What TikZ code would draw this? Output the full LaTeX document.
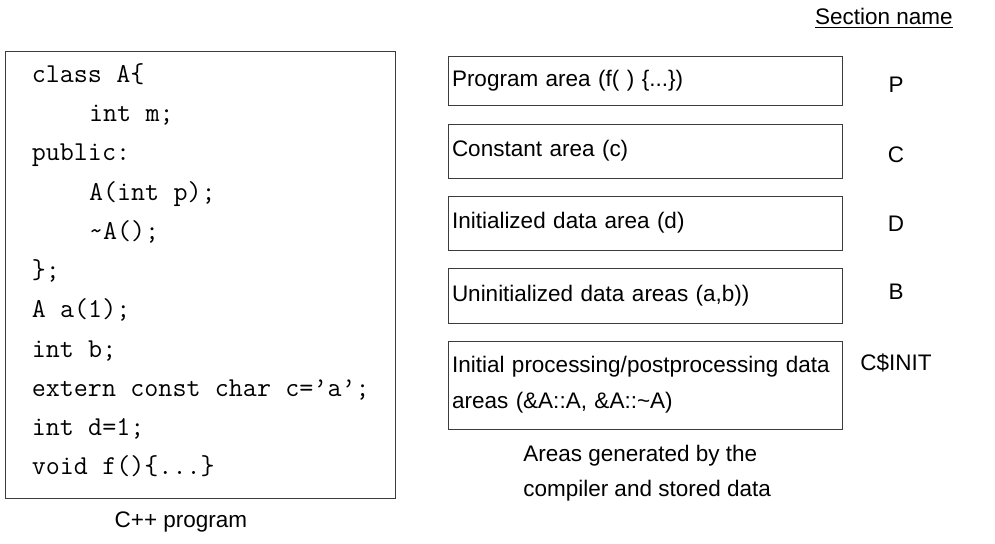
\documentclass[tikz,border=0pt]{standalone}
\usepackage{fontspec}
\setmainfont{Liberation Sans}
\usepackage{tikz}
\usetikzlibrary{positioning}
\definecolor{boxline}{RGB}{60, 60, 60}
\newcommand{\tsp}{\hspace*{0.525em}}

\tikzset{
  areabox/.style={rectangle, draw=boxline, line width=0.7pt, minimum width=9.85cm, text width=9.65cm, inner xsep=0.1cm, align=left, font=\fontsize{16}{25.6}\selectfont},
  seclabel/.style={font=\fontsize{16}{19}\selectfont, inner sep=0pt},
  caption/.style={font=\fontsize{16}{24.9}\selectfont, align=left, inner sep=0pt}
}

\begin{document}
\begin{tikzpicture}
\useasboundingbox (0,0) rectangle (24.875,-13.6);
\node[rectangle, draw=boxline, line width=0.7pt, minimum width=9.75cm, minimum height=11.175cm] (code) at (5.0,-6.8625) {};
\node[anchor=north west, inner sep=0pt, align=left, font=\ttfamily\fontsize{19.4}{27.9}\selectfont] (codetext) at ([xshift=0.675cm, yshift=-0.32cm]code.north west) {class\tsp A\{\\ \tsp\tsp\tsp\tsp int\tsp m;\\ public:\\ \tsp\tsp\tsp\tsp A(int\tsp p);\\ \tsp\tsp\tsp\tsp\textasciitilde A();\\ \};\\ A\tsp a(1);\\ int\tsp b;\\ extern\tsp const\tsp char\tsp c=’a’;\\ int\tsp d=1;\\ void\tsp f()\{...\}};
\node[caption] (codecap) at (4.525,-13.05) {C++ program};

\node[seclabel, anchor=east] (secname) at (23.825,-0.45) {\underline{Section name}};

\node[areabox, minimum height=1.225cm] (prog) at (16.125,-2.0125) {Program area (f( ) \{...\})};
\node[areabox, minimum height=1.35cm] (const) at (16.125,-3.775) {Constant area (c)};
\node[areabox, minimum height=1.35cm] (init) at (16.125,-5.575) {Initialized data area (d)};
\node[areabox, minimum height=1.375cm] (uninit) at (16.125,-7.3875) {Uninitialized data areas (a,b))};
\node[areabox, minimum height=2.2cm] (cinit) at (16.125,-9.625) {Initial processing/postprocessing data areas (\&A::A, \&A::\textasciitilde A)};

\node[seclabel] (secP) at (22.4,-2.125) {P};
\node[seclabel] (secC) at (22.4,-3.875) {C};
\node[seclabel] (secD) at (22.4,-5.6) {D};
\node[seclabel] (secB) at (22.4,-7.3) {B};
\node[seclabel] (secI) at (22.4,-9.075) {C\$INIT};

\node[caption, anchor=west] (areacap) at (13.075,-11.82) {Areas generated by the\\ compiler and stored data};
\end{tikzpicture}
\end{document}
